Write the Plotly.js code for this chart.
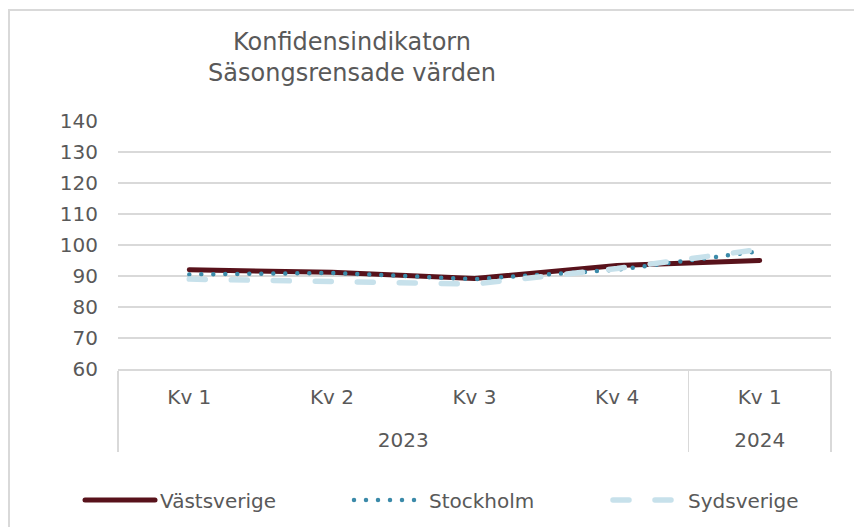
<!DOCTYPE html>
<html>
<head>
<meta charset="utf-8">
<script src="https://cdn.plot.ly/plotly-3.0.1.min.js"></script>
<style>
  html, body { margin: 0; padding: 0; background: #ffffff; overflow: hidden; }
  #frame { position: absolute; left: 8px; top: 9px; width: 900px; height: 600px; border: 2px solid #d9d9d9; box-sizing: border-box; }
  #chart { position: absolute; left: 0; top: 0; width: 854px; height: 527px; }
  .scatterlayer .js-line, .infolayer .js-line { stroke-linecap: round; }
</style>
</head>
<body>
<div id="frame"></div>
<div id="chart"></div>
<script>
const quarters = ["Kv 1", "Kv 2", "Kv 3", "Kv 4", "Kv 1"];
const years = ["2023", "2023", "2023", "2023", "2024"];
const seriesNames = ["Västsverige", "Stockholm", "Sydsverige"];
const vastsverige = [92, 91.2, 89.2, 93.4, 95];
const stockholm = [90.5, 91, 89, 92, 98];
const sydsverige = [89, 88.4, 87.4, 92.4, 98.6];
const yTicks = [60, 70, 80, 90, 100, 110, 120, 130, 140];

const fontFam = "DejaVu Sans, Verdana, sans-serif";
const textCol = "#595959";
// second (empty) line under each quarter label gives the year row its spacing
const quarterLabels = quarters.map(q => q + "<br>\u00a0");
const x = [years, quarterLabels];

const traces = [
  { x: x, y: vastsverige, name: seriesNames[0], type: "scatter", mode: "lines",
    legend: "legend", line: { color: "#58121b", width: 5 } },
  { x: x, y: stockholm, name: seriesNames[1], type: "scatter", mode: "lines",
    legend: "legend2", line: { color: "#3b8aa9", width: 4.5, dash: "0px,12px" } },
  { x: x, y: sydsverige, name: seriesNames[2], type: "scatter", mode: "lines",
    legend: "legend3", line: { color: "#c7e1eb", width: 5.5, dash: "16px,26px" } }
];

function legendAt(px) {
  return {
    orientation: "h",
    xref: "container", yref: "container",
    x: px / 854, xanchor: "left",
    y: 1 - 500 / 527, yanchor: "middle",
    font: { size: 20, color: textCol, family: fontFam },
    itemwidth: 70,
    bgcolor: "rgba(0,0,0,0)"
  };
}

const layout = {
  width: 854, height: 527,
  paper_bgcolor: "rgba(0,0,0,0)",
  plot_bgcolor: "rgba(0,0,0,0)",
  margin: { l: 118, r: 23, t: 121, b: 158 },
  font: { family: fontFam, color: textCol, size: 20 },
  title: {
    text: "Konfidensindikatorn<br>Säsongsrensade värden",
    font: { family: fontFam, size: 24, color: textCol },
    x: 352 / 854, xref: "container", xanchor: "center",
    y: 1 - 50 / 527, yref: "container", yanchor: "middle"
  },
  xaxis: {
    type: "multicategory",
    range: [-0.5, 4.5],
    showline: true, linecolor: "#d9d9d9", linewidth: 1.5,
    showgrid: false, zeroline: false,
    showdividers: true, dividercolor: "#d9d9d9", dividerwidth: 1.5,
    ticks: "", ticklabelstandoff: 9,
    tickfont: { size: 20, color: textCol, family: fontFam }
  },
  yaxis: {
    range: [60, 140], tickvals: yTicks, ticktext: yTicks.map(String),
    showgrid: true, gridcolor: "#d9d9d9", gridwidth: 1.5,
    zeroline: false, showline: false, ticks: "",
    ticklabelstandoff: 19,
    tickfont: { size: 20, color: textCol, family: fontFam }
  },
  showlegend: true,
  legend: legendAt(80),
  legend2: legendAt(349),
  legend3: legendAt(608)
};

Plotly.newPlot("chart", traces, layout, { displayModeBar: false, staticPlot: true });
</script>
</body>
</html>
